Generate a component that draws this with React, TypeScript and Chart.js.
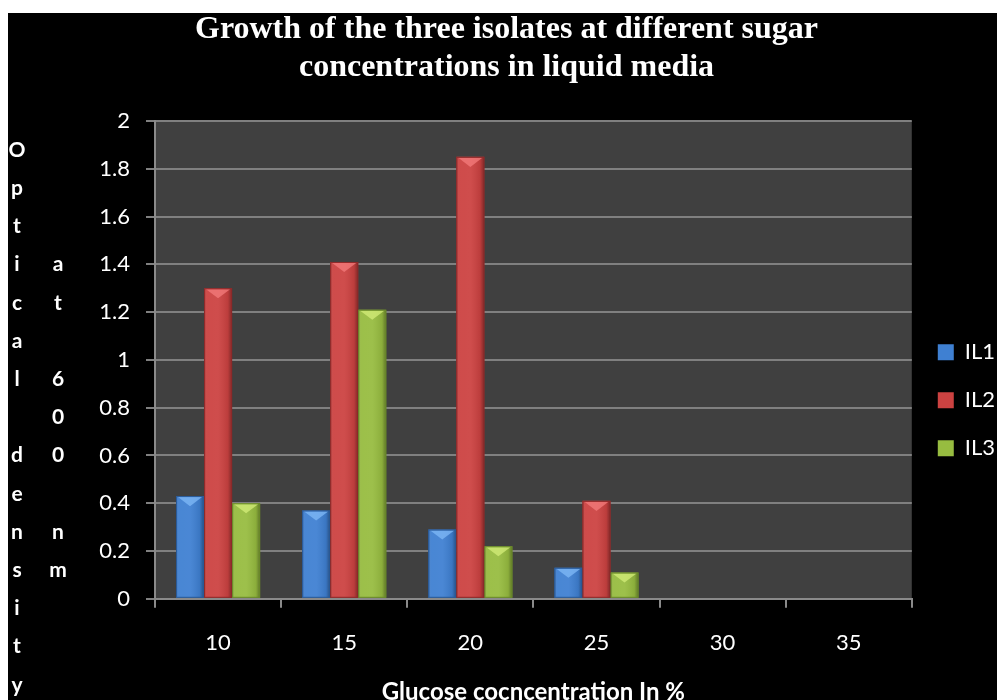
import React, { useEffect, useRef } from 'react';
import { Chart, registerables } from 'chart.js';

Chart.register(...registerables);

// ---- data ----
const categories = ['10', '15', '20', '25', '30', '35'];
const seriesNames = ['IL1', 'IL2', 'IL3'];
const il1 = [0.43, 0.37, 0.29, 0.13, 0, 0];
const il2 = [1.3, 1.41, 1.85, 0.41, 0, 0];
const il3 = [0.4, 1.21, 0.22, 0.11, 0, 0];
const titleLines = ['Growth of the three isolates at different sugar', 'concentrations in liquid media'];
const xTitle = 'Glucose cocncentration In %';
const yTitleMain = 'Optical density';
const yTitleSub = 'at 600 nm';

// ---- styles ----
const SANS = 'Lato, "Open Sans", "DejaVu Sans", sans-serif';
const SERIF = '"Liberation Serif", "Times New Roman", serif';
const COLORS = [
  { base: '#3f80d2', light: '#80baf7', edge: '#2a5a98' },
  { base: '#cc4241', light: '#f47c7c', edge: '#8e2a2a' },
  { base: '#97bc40', light: '#d4ee7a', edge: '#6a8a2a' },
];
const W = 997;
const H = 707;

const bgPlugin = {
  id: 'plotBg',
  beforeDraw(chart: any) {
    const { ctx, chartArea } = chart;
    ctx.save();
    ctx.fillStyle = '#404040';
    ctx.fillRect(chartArea.left, chartArea.top, chartArea.right - chartArea.left, chartArea.bottom - chartArea.top);
    ctx.restore();
  },
};

const bevelPlugin = {
  id: 'bevel',
  afterDatasetsDraw(chart: any) {
    const ctx = chart.ctx;
    chart.data.datasets.forEach((_ds: any, di: number) => {
      const meta = chart.getDatasetMeta(di);
      const c = COLORS[di];
      meta.data.forEach((el: any) => {
        const { x, y, base, width } = el.getProps(['x', 'y', 'base', 'width'], true);
        const h = base - y;
        if (h < 1) return;
        const l = x - width / 2;
        const r = x + width / 2;
        ctx.save();
        const g = ctx.createLinearGradient(l, 0, r, 0);
        g.addColorStop(0, 'rgba(0,0,0,0.22)');
        g.addColorStop(0.1, 'rgba(255,255,255,0.05)');
        g.addColorStop(0.5, 'rgba(255,255,255,0.06)');
        g.addColorStop(0.85, 'rgba(0,0,0,0.08)');
        g.addColorStop(1, 'rgba(0,0,0,0.38)');
        ctx.fillStyle = g;
        ctx.fillRect(l, y, width, h);
        const th = Math.min(width * 0.36, h);
        ctx.beginPath();
        ctx.moveTo(l + 2, y + 1);
        ctx.lineTo(r - 2, y + 1);
        ctx.lineTo(x, y + th);
        ctx.closePath();
        ctx.globalAlpha = 0.75;
        ctx.fillStyle = c.light;
        ctx.fill();
        ctx.globalAlpha = 1;
        ctx.strokeStyle = c.edge;
        ctx.lineWidth = 1;
        ctx.strokeRect(l + 0.5, y + 0.5, width - 1, h - 1);
        ctx.restore();
      });
    });
  },
};

const yTitlePlugin = {
  id: 'stackedYTitle',
  afterDraw(chart: any) {
    const ctx = chart.ctx;
    const rowTop = 150;
    const rowStep = 38.2;
    ctx.save();
    ctx.fillStyle = '#ffffff';
    ctx.font = 'bold 21px ' + SANS;
    ctx.textAlign = 'center';
    ctx.textBaseline = 'middle';
    yTitleMain.split('').forEach((ch, i) => {
      if (ch !== ' ') ctx.fillText(ch, 9, rowTop + i * rowStep);
    });
    yTitleSub.split('').forEach((ch, i) => {
      if (ch !== ' ') ctx.fillText(ch, 50, rowTop + (i + 3) * rowStep);
    });
    ctx.restore();
  },
};

export default function App() {
  const ref = useRef<HTMLCanvasElement>(null);

  useEffect(() => {
    document.documentElement.style.overflow = 'hidden';
    document.body.style.overflow = 'hidden';
    const canvas = ref.current;
    if (!canvas) return;
    const seriesData = [il1, il2, il3];
    const chart = new Chart(canvas, {
      type: 'bar',
      data: {
        labels: categories,
        datasets: seriesNames.map((name, i) => ({
          label: name,
          data: seriesData[i],
          backgroundColor: COLORS[i].base,
          borderColor: COLORS[i].edge,
          borderWidth: 0,
          categoryPercentage: 0.667,
          barPercentage: 1,
        })),
      },
      options: {
        responsive: false,
        animation: false,
        devicePixelRatio: 1,
        layout: { padding: 0 },
        plugins: {
          title: {
            display: true,
            text: titleLines,
            color: '#ffffff',
            font: { family: SERIF, size: 32, weight: 'bold', lineHeight: '38px' },
            padding: { top: 11, bottom: 34 },
          },
          legend: {
            position: 'right',
            title: { display: true, text: '', padding: { top: 79, bottom: 0 } },
            labels: {
              color: '#ffffff',
              font: { family: SANS, size: 22 },
              boxWidth: 16,
              boxHeight: 16,
              padding: 26,
            },
          },
          tooltip: { enabled: false },
        },
        scales: {
          x: {
            grid: {
              display: true,
              drawOnChartArea: false,
              drawTicks: true,
              tickLength: 9,
              color: '#8a8a8a',
              lineWidth: 2,
              offset: true,
            },
            border: { display: true, color: '#8a8a8a', width: 2 },
            ticks: { color: '#ffffff', font: { family: SANS, size: 22 }, padding: 22 },
            title: {
              display: true,
              text: xTitle,
              color: '#ffffff',
              font: { family: SANS, size: 24, weight: 'bold' },
              padding: { top: 0, bottom: 0 },
            },
          },
          y: {
            min: 0,
            max: 2,
            afterFit: (scale: any) => {
              scale.width = 147;
            },
            grid: { color: '#808080', lineWidth: 2, drawTicks: true, tickLength: 9 },
            border: { display: true, color: '#8a8a8a', width: 2 },
            ticks: {
              stepSize: 0.2,
              color: '#ffffff',
              font: { family: SANS, size: 22 },
              padding: 16,
              callback: (v: any) => String(Math.round(Number(v) * 10) / 10),
            },
          },
        },
      },
      plugins: [bgPlugin, bevelPlugin, yTitlePlugin],
    } as any);
    return () => chart.destroy();
  }, []);

  return (
    <div style={{ position: 'relative', top: 5, width: W, height: H, background: '#000000' }}>
      <canvas ref={ref} width={W} height={H} style={{ position: 'absolute', left: 0, top: -13, display: 'block' }} />
    </div>
  );
}
